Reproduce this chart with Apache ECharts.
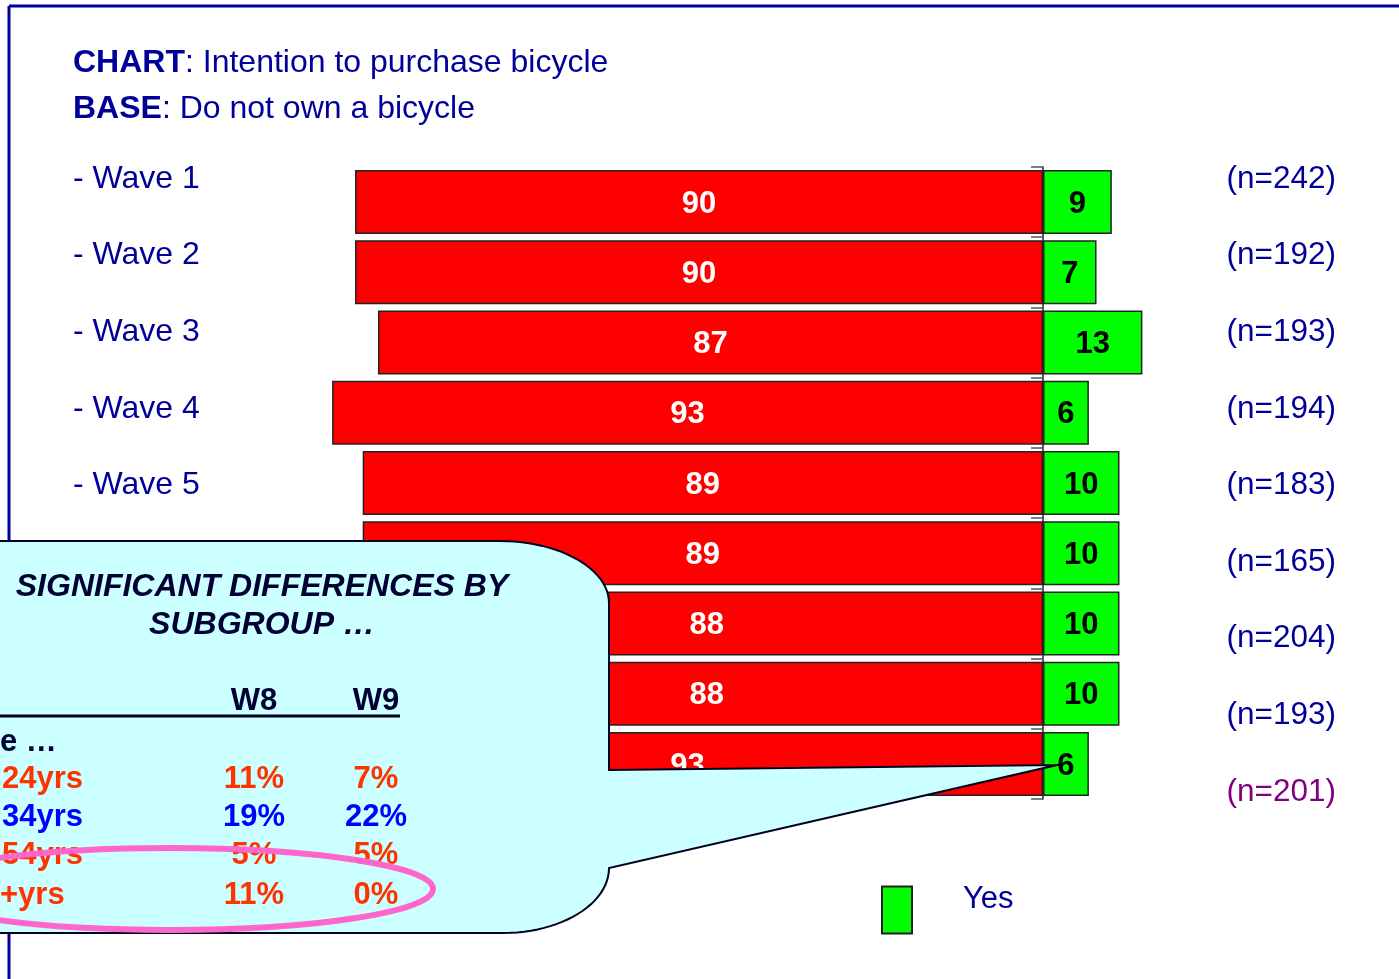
<!DOCTYPE html>
<html>
<head>
<meta charset="utf-8">
<script src="https://cdn.jsdelivr.net/npm/echarts@6/dist/echarts.min.js"></script>
<style>
html,body{margin:0;padding:0;background:#fff;}
#chart{width:1399px;height:979px;}
</style>
</head>
<body>
<div id="chart"></div>
<script>
const categories = ['- Wave 1','- Wave 2','- Wave 3','- Wave 4','- Wave 5','- Wave 6','- Wave 7','- Wave 8','- Wave 9'];
const noValues = [90, 90, 87, 93, 89, 89, 88, 88, 93];
const yesValues = [9, 7, 13, 6, 10, 10, 10, 10, 6];
const baseLabels = ['(n=242)','(n=192)','(n=193)','(n=194)','(n=183)','(n=165)','(n=204)','(n=193)','(n=201)'];
const calloutHeading = ['SIGNIFICANT DIFFERENCES BY', 'SUBGROUP \u2026'];
const calloutCols = ['W8', 'W9'];
const calloutGroup = 'e \u2026';
const calloutRows = ['24yrs', '34yrs', '54yrs', '+yrs'];
const w8Values = ['11%', '19%', '5%', '11%'];
const w9Values = ['7%', '22%', '5%', '0%'];
const rowColors = ['#FF3300', '#0000FF', '#FF3300', '#FF3300'];

const FONT = '"Liberation Sans", Arial, Helvetica, sans-serif';
const NAVY = '#000099';

const chart = echarts.init(document.getElementById('chart'));

// callout outline (annotation shape), cubic corners sampled into a polygon
function cubic(p0, p1, p2, p3, n) {
  const pts = [];
  for (let i = 1; i <= n; i++) {
    const t = i / n, u = 1 - t;
    pts.push([
      u*u*u*p0[0] + 3*u*u*t*p1[0] + 3*u*t*t*p2[0] + t*t*t*p3[0],
      u*u*u*p0[1] + 3*u*u*t*p1[1] + 3*u*t*t*p2[1] + t*t*t*p3[1]
    ]);
  }
  return pts;
}
const calloutPts = [[-20, 541], [500, 541]]
  .concat(cubic([500, 541], [560, 541], [609, 569], [609, 603], 24))
  .concat([[609, 770], [1057, 765], [609, 868]])
  .concat(cubic([609, 868], [609, 904], [561, 933], [503, 933], 24))
  .concat([[-20, 933]]);

const graphics = [
  { type: 'line', z: 50, shape: { x1: 9, y1: 6, x2: 1399, y2: 6 }, style: { stroke: NAVY, lineWidth: 3 } },
  { type: 'line', z: 50, shape: { x1: 9, y1: 6, x2: 9, y2: 979 }, style: { stroke: NAVY, lineWidth: 3 } },
  { type: 'polygon', z: 100, shape: { points: calloutPts },
    style: { fill: '#CCFFFF', stroke: '#000022', lineWidth: 2 } }
];
calloutHeading.forEach((t, i) => {
  graphics.push({ type: 'text', z: 101, x: 262, y: 587 + i * 38,
    style: { text: t, fill: '#000033', font: 'italic bold 32px ' + FONT, textAlign: 'center', textVerticalAlign: 'middle' } });
});
const colX = [254, 376];
calloutCols.forEach((t, i) => {
  graphics.push({ type: 'text', z: 101, x: colX[i], y: 701,
    style: { text: t, fill: '#000033', font: 'bold 31px ' + FONT, textAlign: 'center', textVerticalAlign: 'middle' } });
});
graphics.push({ type: 'line', z: 101, shape: { x1: 0, y1: 716, x2: 400, y2: 716 }, style: { stroke: '#000022', lineWidth: 3 } });
graphics.push({ type: 'text', z: 101, x: 0, y: 742,
  style: { text: calloutGroup, fill: '#000033', font: 'bold 31px ' + FONT, textAlign: 'left', textVerticalAlign: 'middle' } });
const rowY = [779, 817, 855, 895];
calloutRows.forEach((t, i) => {
  const f = 'bold 31px ' + FONT;
  graphics.push({ type: 'text', z: 101, x: i === 3 ? 0 : 2, y: rowY[i],
    style: { text: t, fill: rowColors[i], font: f, textAlign: 'left', textVerticalAlign: 'middle' } });
  graphics.push({ type: 'text', z: 101, x: colX[0], y: rowY[i],
    style: { text: w8Values[i], fill: rowColors[i], font: f, textAlign: 'center', textVerticalAlign: 'middle' } });
  graphics.push({ type: 'text', z: 101, x: colX[1], y: rowY[i],
    style: { text: w9Values[i], fill: rowColors[i], font: f, textAlign: 'center', textVerticalAlign: 'middle' } });
});
graphics.push({ type: 'ellipse', z: 102, shape: { cx: 170, cy: 889, rx: 263, ry: 41 },
  style: { fill: 'none', stroke: '#FF66CC', lineWidth: 6 } });

const option = {
  backgroundColor: '#ffffff',
  animation: false,
  title: {
    left: 73, top: 40, padding: 0,
    text: '{b|CHART}{n|: Intention to purchase bicycle}\n{b|BASE}{n|: Do not own a bicycle}',
    textStyle: {
      fontFamily: FONT, fontSize: 32, color: NAVY, lineHeight: 46,
      rich: {
        b: { fontFamily: FONT, fontSize: 32, fontWeight: 'bold', color: NAVY, lineHeight: 46 },
        n: { fontFamily: FONT, fontSize: 32, fontWeight: 'normal', color: NAVY, lineHeight: 46 }
      }
    }
  },
  legend: {
    data: ['Yes'],
    left: 881, top: 884, padding: 0,
    itemWidth: 30, itemHeight: 47,
    icon: 'rect',
    formatter: '{a|{name}}',
    textStyle: {
      fontFamily: FONT, fontSize: 31, color: NAVY,
      rich: { a: { fontFamily: FONT, fontSize: 31, color: NAVY, padding: [0, 0, 21, 46] } }
    }
  },
  graphic: { elements: graphics },
  grid: [
    { left: 278.6, right: 50.2, top: 166.9, bottom: 179.9 },
    { left: 73, right: 63, top: 140.7, bottom: 148.7 }
  ],
  xAxis: [
    { type: 'value', gridIndex: 0, min: -100, max: 40, show: false },
    { type: 'value', gridIndex: 1, min: 0, max: 1, show: false }
  ],
  yAxis: [
    { type: 'category', gridIndex: 0, data: categories, inverse: true,
      axisLine: { show: true, onZero: true, lineStyle: { color: '#222', width: 1.5 } },
      axisTick: { show: true, length: 12, lineStyle: { color: '#555', width: 1.5 } },
      axisLabel: { show: false }, splitLine: { show: false } },
    { type: 'category', gridIndex: 1, data: categories, inverse: true, position: 'left',
      axisLine: { show: false }, axisTick: { show: false }, splitLine: { show: false },
      axisLabel: { inside: true, margin: 0, fontFamily: FONT, fontSize: 32, color: NAVY } },
    { type: 'category', gridIndex: 1, inverse: true, position: 'right',
      data: baseLabels.map((t, i) => i === baseLabels.length - 1 ? { value: t, textStyle: { color: '#800080' } } : t),
      axisLine: { show: false }, axisTick: { show: false }, splitLine: { show: false },
      axisLabel: { inside: true, margin: 0, fontFamily: FONT, fontSize: 31.5, color: NAVY } }
  ],
  series: [
    { name: 'No', type: 'bar', xAxisIndex: 0, yAxisIndex: 0, barWidth: 64, barGap: '-100%',
      data: noValues.map(v => -v),
      itemStyle: { color: '#FF0000', borderColor: '#222', borderWidth: 1.5 },
      label: { show: true, position: 'inside', offset: [0, 2], formatter: p => Math.abs(p.value),
        color: '#ffffff', fontFamily: FONT, fontSize: 31, fontWeight: 'bold' } },
    { name: 'Yes', type: 'bar', xAxisIndex: 0, yAxisIndex: 0, barWidth: 64, barGap: '-100%',
      data: yesValues,
      itemStyle: { color: '#00FF00', borderColor: '#222', borderWidth: 1.5 },
      label: { show: true, position: 'inside', offset: [0, 2], color: '#000000', fontFamily: FONT, fontSize: 31, fontWeight: 'bold' } }
  ]
};
chart.setOption(option);
</script>
</body>
</html>
